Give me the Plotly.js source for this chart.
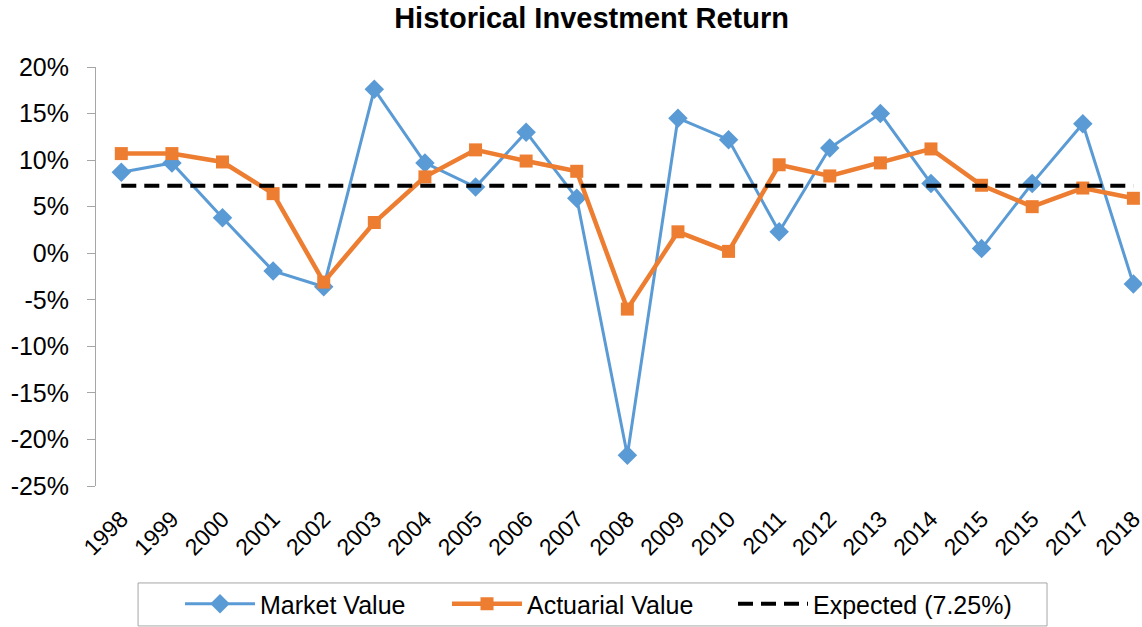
<!DOCTYPE html>
<html>
<head>
<meta charset="utf-8">
<script src="https://cdn.plot.ly/plotly-3.0.1.min.js"></script>
<style>html,body{margin:0;padding:0;background:#fff;}#chart{width:1142px;height:627px;}</style>
</head>
<body>
<div id="chart"></div>
<script>
const yearLabels = ["1998","1999","2000","2001","2002","2003","2004","2005","2006","2007","2008","2009","2010","2011","2012","2013","2014","2015","2015","2017","2018"];
const marketValue = [8.7, 9.7, 3.8, -1.9, -3.6, 17.6, 9.7, 7.1, 13.0, 5.9, -21.7, 14.5, 12.2, 2.3, 11.3, 15.0, 7.5, 0.5, 7.5, 13.9, -3.3];
const actuarialValue = [10.7, 10.7, 9.8, 6.4, -3.1, 3.3, 8.2, 11.1, 9.9, 8.8, -6.0, 2.3, 0.2, 9.5, 8.3, 9.7, 11.2, 7.3, 5.0, 7.0, 5.9];
const expectedReturn = 7.25;
const yTicks = [-25, -20, -15, -10, -5, 0, 5, 10, 15, 20];
const yTickLabels = ["-25%", "-20%", "-15%", "-10%", "-5%", "0%", "5%", "10%", "15%", "20%"];

const idx = yearLabels.map((_, i) => i);
const font = "Liberation Sans, Arial, sans-serif";

const traces = [
  {
    x: idx, y: marketValue, name: "Market Value", type: "scatter", mode: "lines+markers",
    line: {color: "#5B9BD5", width: 3},
    marker: {symbol: "diamond", size: 15, color: "#5B9BD5"},
    legend: "legend"
  },
  {
    x: idx, y: actuarialValue, name: "Actuarial Value", type: "scatter", mode: "lines+markers",
    line: {color: "#ED7D31", width: 4.5},
    marker: {symbol: "square", size: 13, color: "#ED7D31"},
    legend: "legend2"
  },
  {
    x: idx, y: idx.map(() => expectedReturn), name: "Expected (7.25%)", type: "scatter", mode: "lines",
    line: {color: "#000000", width: 4, dash: "15px,8px"},
    legend: "legend3"
  }
];

function legendAt(px) {
  return {
    orientation: "h", xref: "container", yref: "container", x: px / 1142, xanchor: "left",
    y: 1 - 604 / 627, yanchor: "middle", borderwidth: 0, bgcolor: "rgba(0,0,0,0)",
    font: {size: 25, family: font}, itemwidth: 70
  };
}

const layout = {
  width: 1142, height: 627,
  paper_bgcolor: "#fff", plot_bgcolor: "#fff",
  margin: {l: 96, r: 0, t: 67, b: 141},
  font: {family: font, color: "#000"},
  title: {text: "<b>Historical Investment Return</b>", font: {family: font, size: 29, color: "#000"}, x: 0.518, xanchor: "center", y: 0.971, yanchor: "middle", yref: "container"},
  xaxis: {
    range: [-0.5, 20.17], tickmode: "array", tickvals: idx, ticktext: yearLabels,
    tickangle: -45, tickfont: {size: 23, family: font}, showgrid: false, zeroline: false,
    showline: false, ticks: "", fixedrange: true, ticklabeloverflow: "allow", automargin: false,
    ticklabelstandoff: 14
  },
  yaxis: {
    range: [-25, 20], tickmode: "array", tickvals: yTicks, ticktext: yTickLabels, tickfont: {size: 25, family: font},
    showgrid: false, zeroline: false, showline: true, linecolor: "#A6A6A6", linewidth: 1,
    ticks: "outside", ticklen: 8, tickcolor: "#A6A6A6", automargin: false, ticklabelstandoff: 13
  },
  showlegend: true,
  legend: legendAt(180),
  legend2: legendAt(447),
  legend3: legendAt(733),
  shapes: [
    {type: "rect", xref: "paper", yref: "paper", x0: 0.0402, x1: 0.9092, y0: -0.2314, y1: -0.334,
     line: {color: "#A6A6A6", width: 1}, fillcolor: "rgba(0,0,0,0)", layer: "below"}
  ]
};

Plotly.newPlot("chart", traces, layout, {displayModeBar: false, staticPlot: true});
</script>
</body>
</html>
